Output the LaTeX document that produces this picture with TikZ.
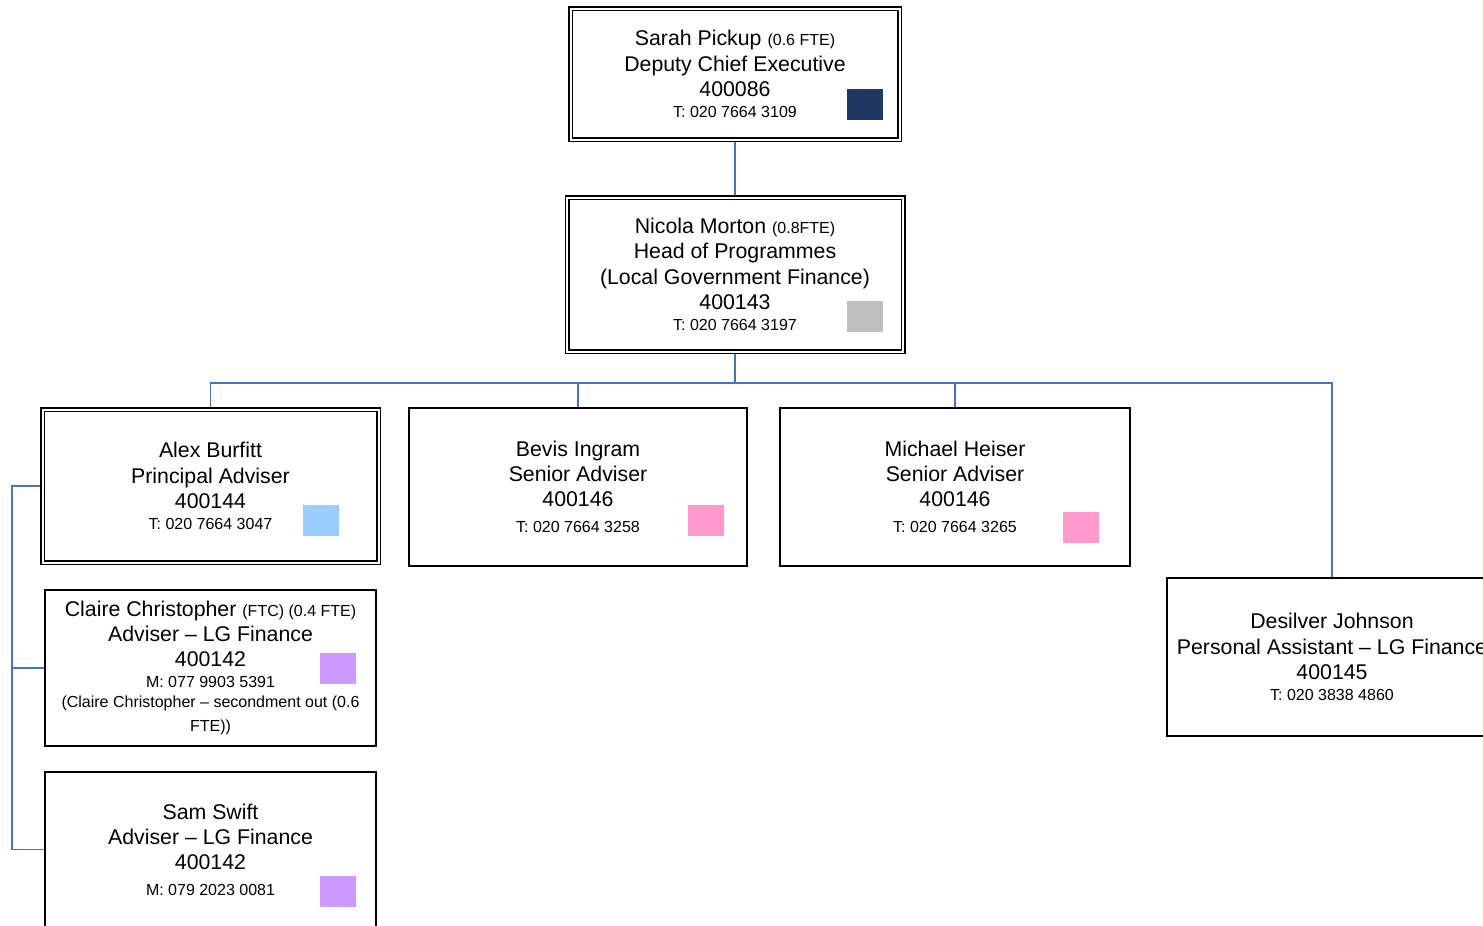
\documentclass[tikz,border=0pt]{standalone}
\usepackage{fontspec}
\setmainfont{Liberation Sans}
\usetikzlibrary{positioning, backgrounds}

\definecolor{linkblue}{HTML}{4472C4}
\definecolor{navy}{HTML}{1F3864}
\definecolor{greytag}{HTML}{BFBFBF}
\definecolor{bluetag}{HTML}{99CCFF}
\definecolor{pinktag}{HTML}{FF99CC}
\definecolor{lilac}{HTML}{CC99FF}

\newcommand{\bigtxt}{\fontsize{21.3}{25.3}\selectfont}
\newcommand{\sml}[1]{{\fontsize{16}{19}\selectfont #1}}

\tikzset{
	staff/.style={draw, line width=1.6pt, align=center, font=\bigtxt, inner sep=0pt},
	lead/.style={staff, double, line width=1.5pt, double distance=2pt},
	tag/.style={minimum width=36pt, minimum height=31pt, inner sep=0pt},
	link/.style={draw=linkblue, line width=1.5pt}
}

\begin{document}
\begin{tikzpicture}[x=1pt, y=-1pt, on grid]
		\clip (0,0) rectangle (1483,926);
		% top of the chart
		\node[lead, minimum width=329pt, minimum height=131pt] (sp) at (735,74)
			{Sarah Pickup \sml{(0.6 FTE)}\\Deputy Chief Executive\\400086\\[-4.2pt]\sml{T: 020 7664 3109}};
		\node[lead, minimum width=336pt, minimum height=154pt] (nm) [below=200.5pt of sp]
			{Nicola Morton \sml{(0.8FTE)}\\Head of Programmes\\(Local Government Finance)\\400143\\[-4.2pt]\sml{T: 020 7664 3197}};
		% advisers
		\node[lead, minimum width=336pt, minimum height=153pt] (ab) at (210.5,486)
			{Alex Burfitt\\Principal Adviser\\400144\\[-4.2pt]\sml{T: 020 7664 3047}};
		\node[staff, minimum width=338pt, minimum height=158pt] (bi) at (578,487)
			{Bevis Ingram\\Senior Adviser\\400146\\[0.7pt]\sml{T: 020 7664 3258}};
		\node[staff, minimum width=350pt, minimum height=158pt] (mh) at (955,487)
			{Michael Heiser\\Senior Adviser\\400146\\[0.7pt]\sml{T: 020 7664 3265}};
		\node[staff, minimum width=330pt, minimum height=158pt] (dj) at (1332,657)
			{Desilver Johnson\\Personal Assistant – LG Finance\\400145\\[-4.2pt]\sml{T: 020 3838 4860}};
		\node[staff, minimum width=331pt, minimum height=156pt] (cc) [below=182pt of ab]
			{Claire Christopher \sml{(FTC) (0.4 FTE)}\\Adviser – LG Finance\\400142\\[-4.2pt]\sml{M: 077 9903 5391}\\[-5.3pt]\sml{(Claire Christopher – secondment out (0.6}\\[-1.3pt]\sml{FTE))}};
		\node[staff, minimum width=331pt, minimum height=155pt] (ss) [below=181.5pt of cc]
			{Sam Swift\\Adviser – LG Finance\\400142\\[-0.2pt]\sml{M: 079 2023 0081}};
		% colour keys
		\node[tag, fill=navy] (spk) at (865,104.5) {};
		\node[tag, fill=greytag] (nmk) at (865,316.5) {};
		\node[tag, fill=bluetag] (abk) at (321,520.5) {};
		\node[tag, fill=pinktag] (bik) at (706,520.5) {};
		\node[tag, fill=pinktag] (mhk) at (1081,527.5) {};
		\node[tag, fill=lilac] (cck) at (338,668.5) {};
		\node[tag, fill=lilac] (ssk) at (338,891.5) {};
		\coordinate (bus) at (735,383);
		\coordinate (spine) at (12,486);
		\begin{scope}[on background layer]
			\draw[link] (sp.south) -- (nm.north);
			\draw[link] (nm.south) -- (bus);
			\draw[link] (bus) -| (ab.north);
			\draw[link] (bus) -| (bi.north);
			\draw[link] (bus) -| (mh.north);
			\draw[link] (bus) -| (dj.north);
			\draw[link] (ab.west) -- (spine) |- (ss.west);
			\draw[link] (cc.west) -- (cc.west -| spine);
		\end{scope}
		\end{tikzpicture}
\end{document}
